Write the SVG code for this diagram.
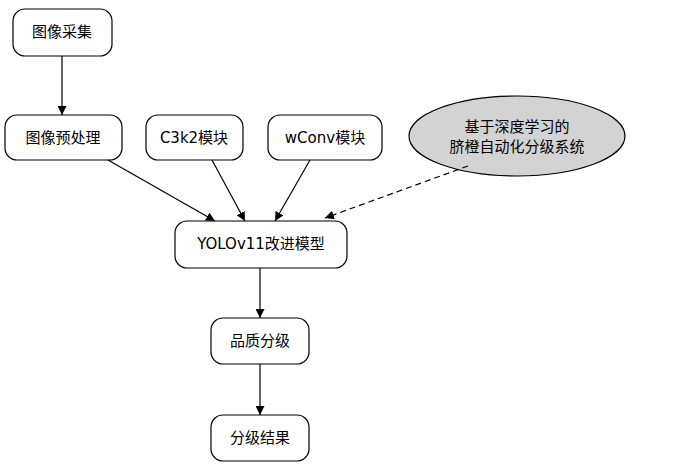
<svg xmlns="http://www.w3.org/2000/svg" width="685" height="466" viewBox="0 0 685 466">
<style>
.n{fill:#fff;stroke:#000;stroke-width:1.2}
.t{font-family:"DejaVu Sans","Noto Sans CJK SC",sans-serif;font-size:15px;text-anchor:middle;dominant-baseline:central}
.e{stroke:#000;stroke-width:1.2;fill:none;marker-end:url(#a)}
</style>
<defs><marker id="a" viewBox="0 0 10 10" refX="10" refY="5" markerWidth="9" markerHeight="9" markerUnits="userSpaceOnUse" orient="auto"><path d="M0,0L10,5L0,10z"/></marker></defs>
<rect width="685" height="466" fill="#fff"/>
<g id="n1"><rect class="n" x="13" y="9" width="99" height="47" rx="12"/><text class="t" x="62" y="32">图像采集</text></g>
<g id="n2"><rect class="n" x="5" y="115" width="117" height="45" rx="12"/><text class="t" x="63" y="138">图像预处理</text></g>
<g id="n3"><rect class="n" x="146" y="115" width="97" height="45" rx="12"/><text class="t" x="194" y="138">C3k2模块</text></g>
<g id="n4"><rect class="n" x="268" y="115" width="114" height="45" rx="12"/><text class="t" x="325" y="138">wConv模块</text></g>
<g id="n5"><ellipse cx="517" cy="136" rx="108" ry="40" fill="#d3d3d3" stroke="#000" stroke-width="1.2"/><text class="t" x="517" y="127">基于深度学习的</text><text class="t" x="517" y="147">脐橙自动化分级系统</text></g>
<g id="n6"><rect class="n" x="175" y="221" width="172" height="47" rx="12"/><text class="t" x="261" y="244">YOLOv11改进模型</text></g>
<g id="n7"><rect class="n" x="211" y="318" width="98" height="46" rx="12"/><text class="t" x="260" y="341">品质分级</text></g>
<g id="n8"><rect class="n" x="211" y="415" width="98" height="46" rx="12"/><text class="t" x="260" y="438">分级结果</text></g>
<g id="edges">
<line class="e" x1="62" y1="56" x2="62" y2="115"/>
<line class="e" x1="108" y1="160" x2="215" y2="221"/>
<line class="e" x1="212" y1="160" x2="245" y2="221"/>
<line class="e" x1="310" y1="160" x2="275" y2="221"/>
<line class="e" x1="468" y1="166" x2="325" y2="218" stroke-dasharray="6,4"/>
<line class="e" x1="260" y1="268" x2="260" y2="318"/>
<line class="e" x1="260" y1="364" x2="260" y2="415"/>
</g>
</svg>
